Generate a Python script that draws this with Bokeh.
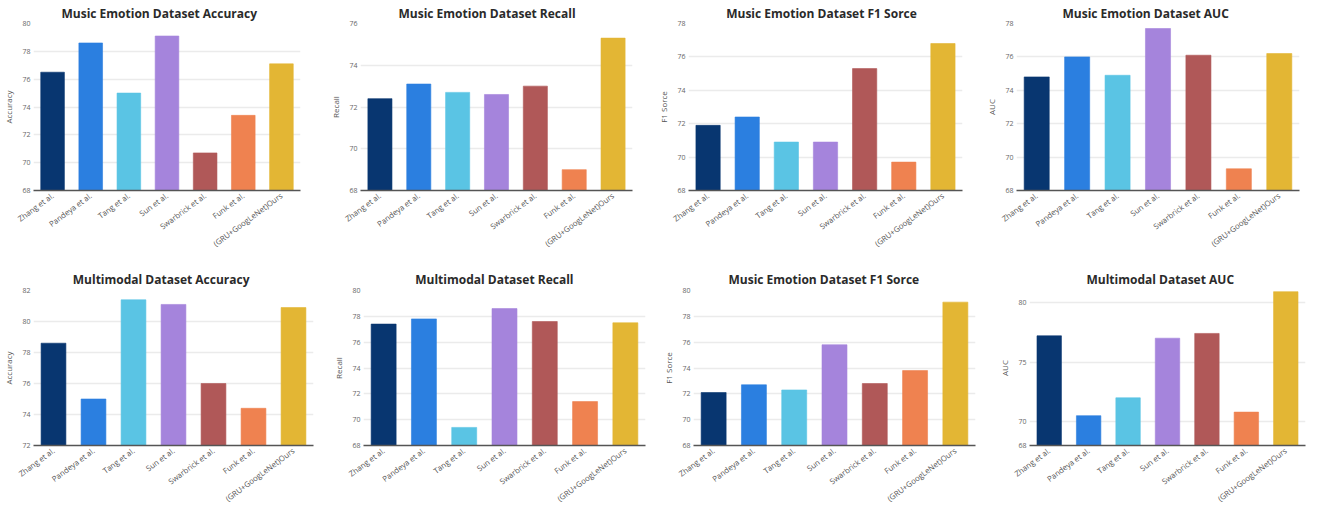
from bokeh.plotting import figure
from bokeh.layouts import column, row
from bokeh.models import FixedTicker, Range1d, ColumnDataSource
from bokeh.embed import file_html
from bokeh.resources import INLINE

methods = ["Zhang et al.", "Pandeya et al.", "Tang et al.", "Sun et al.",
           "Swarbrick et al.", "Funk et al.", "(GRU+GoogLeNet)Ours"]
colors = ["#083670", "#2b7fe0", "#5ac4e4", "#a584dc", "#b05858", "#ef8250", "#e3b634"]

me_accuracy = [76.5, 78.6, 75.0, 79.1, 70.7, 73.4, 77.1]
me_recall = [72.4, 73.1, 72.7, 72.6, 73.0, 69.0, 75.3]
me_f1 = [71.9, 72.4, 70.9, 70.9, 75.3, 69.7, 76.8]
me_auc = [74.8, 76.0, 74.9, 77.7, 76.1, 69.3, 76.2]
mm_accuracy = [78.6, 75.0, 81.4, 81.1, 76.0, 74.4, 80.9]
mm_recall = [77.4, 77.8, 69.4, 78.6, 77.6, 71.4, 77.5]
mm_f1 = [72.1, 72.7, 72.3, 75.8, 72.8, 73.8, 79.1]
mm_auc = [77.2, 70.5, 72.0, 77.0, 77.4, 70.8, 80.9]

titles = ["Music Emotion Dataset Accuracy", "Music Emotion Dataset Recall",
          "Music Emotion Dataset F1 Sorce", "Music Emotion Dataset AUC",
          "Multimodal Dataset Accuracy", "Multimodal Dataset Recall",
          "Music Emotion Dataset F1 Sorce", "Multimodal Dataset AUC"]
ylabels = ["Accuracy", "Recall", "F1 Sorce", "AUC", "Accuracy", "Recall", "F1 Sorce", "AUC"]
yticks = [[68, 70, 72, 74, 76, 78, 80], [68, 70, 72, 74, 76], [68, 70, 72, 74, 76, 78],
          [68, 70, 72, 74, 76, 78], [72, 74, 76, 78, 80, 82], [68, 70, 72, 74, 76, 78, 80],
          [68, 70, 72, 74, 76, 78, 80], [68, 70, 75, 80]]
yranges = [(68, 80), (68, 76), (68, 78), (68, 78), (72, 82), (68, 80), (68, 80), (68, 81)]
series = [me_accuracy, me_recall, me_f1, me_auc, mm_accuracy, mm_recall, mm_f1, mm_auc]

# layout
col_w = [327, 328, 328, 326]
row_h = [255, 255]
# (min_border_left, min_border_right, min_border_top, min_border_bottom)
borders = [(22, 27, 23, 64), (22, 23, 23, 64), (25, 21, 23, 64), (33, 10, 23, 64),
           (31, 14, 35, 43), (36, 10, 35, 43), (38, 8, 35, 43), (46, 4, 35, 43)]
title_offsets = [28, 38, 37.7, 46, 39.3, 51.7, 35, 57]
title_standoffs = [4, 4, 4, 4, 5, 5, 5, 5]

FONT = "Open Sans"
figs = []
for i in range(8):
    bl, br, bt, bb = borders[i]
    y0, y1 = yranges[i]
    p = figure(x_range=methods, y_range=Range1d(y0, y1),
               width=col_w[i % 4], height=row_h[i // 4],
               output_backend="svg", toolbar_location=None, title=titles[i],
               min_border_left=bl, min_border_right=br, min_border_top=bt,
               min_border_bottom=bb)
    src = ColumnDataSource(dict(x=methods, top=series[i], color=colors))
    p.vbar(x="x", top="top", bottom=y0, width=0.62, source=src,
           fill_color="color", line_color="color", line_alpha=0.6)
    p.title.text_font = FONT
    p.title.text_font_size = "12px"
    p.title.text_font_style = "bold"
    p.title.text_color = "#2a2a2a"
    p.title.align = "left"
    p.title.offset = title_offsets[i]
    p.title.standoff = title_standoffs[i]
    p.outline_line_color = None
    p.xgrid.grid_line_color = None
    p.ygrid.grid_line_color = "#ebebeb"
    p.ygrid.grid_line_width = 1.5
    p.yaxis.ticker = FixedTicker(ticks=yticks[i])
    p.yaxis.axis_line_color = None
    p.yaxis.major_tick_line_color = None
    p.yaxis.minor_tick_line_color = None
    p.yaxis.major_tick_out = 0
    p.yaxis.major_tick_in = 0
    p.yaxis.major_label_text_font = FONT
    p.yaxis.major_label_text_font_size = "7px"
    p.yaxis.major_label_text_color = "#666666"
    p.yaxis.major_label_standoff = 3
    p.yaxis.axis_label = ylabels[i]
    p.yaxis.axis_label_text_font = FONT
    p.yaxis.axis_label_text_font_size = "8px"
    p.yaxis.axis_label_text_font_style = "normal"
    p.yaxis.axis_label_text_color = "#555555"
    p.yaxis.axis_label_standoff = 5
    p.xaxis.axis_line_color = "#555555"
    p.xaxis.axis_line_width = 1.5
    p.xaxis.major_tick_line_color = None
    p.xaxis.minor_tick_line_color = None
    p.xaxis.major_tick_out = 0
    p.xaxis.major_tick_in = 0
    p.xaxis.axis_label_standoff = 0
    p.xaxis.major_label_orientation = 0.64
    p.xaxis.major_label_text_font = FONT
    p.xaxis.major_label_text_font_size = "7.8px"
    p.xaxis.major_label_text_color = "#555555"
    p.xaxis.major_label_standoff = 4
    p.x_range.range_padding = 0.0
    figs.append(p)

layout = column(row(*figs[:4]), row(*figs[4:]))
open("out.html", "w").write(file_html(layout, INLINE))
